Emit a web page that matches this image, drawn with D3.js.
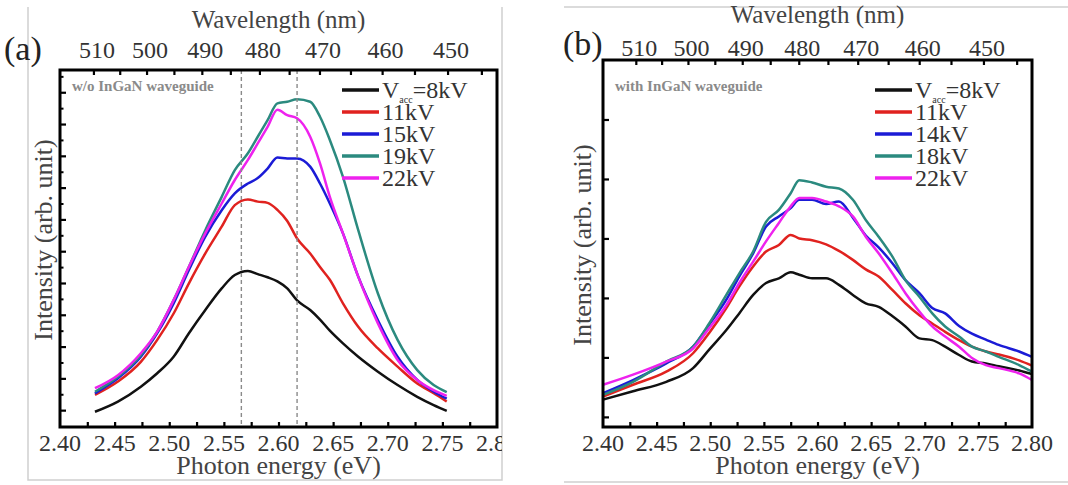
<!DOCTYPE html>
<html>
<head>
<meta charset="utf-8">
<script src="https://cdn.jsdelivr.net/npm/d3@7"></script>
<style>
  html, body { margin: 0; padding: 0; background: #fff; }
  svg { display: block; }
</style>
</head>
<body>
<svg id="chart" width="1068" height="485"></svg>
<script>
// ---- data ----
// panel (a): without InGaN waveguide
const energyA = [2.432, 2.453, 2.474, 2.489, 2.504, 2.518, 2.533, 2.548, 2.560, 2.572, 2.581, 2.590, 2.599,
                 2.608, 2.617, 2.629, 2.638, 2.647, 2.659, 2.673, 2.691, 2.709, 2.727, 2.742, 2.754];
const a8kV  = [0.95, 1.27, 1.74, 2.16, 2.68, 3.42, 4.15, 4.83, 5.25, 5.38, 5.28, 5.18, 5.05,
               4.83, 4.45, 4.15, 3.85, 3.50, 3.10, 2.68, 2.21, 1.79, 1.42, 1.16, 0.98];
const a11kV = [1.48, 1.90, 2.52, 3.21, 4.04, 4.99, 5.93, 6.77, 7.45, 7.63, 7.56, 7.52, 7.30,
               6.95, 6.40, 5.93, 5.50, 5.10, 4.36, 3.62, 2.94, 2.37, 1.84, 1.53, 1.27];
const a15kV = [1.53, 2.00, 2.68, 3.42, 4.36, 5.41, 6.46, 7.29, 7.82, 8.13, 8.30, 8.60, 8.95,
               8.92, 8.92, 8.66, 8.13, 7.50, 6.56, 5.20, 3.83, 2.68, 1.95, 1.58, 1.36];
const a19kV = [1.58, 2.05, 2.73, 3.47, 4.46, 5.51, 6.66, 7.71, 8.55, 9.08, 9.60, 10.12, 10.65,
               10.70, 10.78, 10.70, 10.23, 9.50, 8.34, 6.66, 4.67, 3.21, 2.26, 1.79, 1.57];
const a22kV = [1.69, 2.10, 2.79, 3.47, 4.46, 5.51, 6.56, 7.50, 8.24, 8.87, 9.39, 9.91, 10.45,
               10.28, 10.18, 9.60, 8.76, 7.71, 6.56, 5.20, 3.73, 2.58, 1.95, 1.63, 1.45];
const labelsA = ["8kV", "11kV", "15kV", "19kV", "22kV"];
const markersA = [2.566, 2.617];   // dashed guide lines (eV)

// panel (b): with InGaN waveguide
const energyB = [2.400, 2.428, 2.459, 2.484, 2.499, 2.515, 2.527, 2.540, 2.552, 2.564, 2.575, 2.583, 2.595, 2.608, 2.620,
                 2.633, 2.645, 2.657, 2.670, 2.682, 2.695, 2.707, 2.719, 2.732, 2.744, 2.757, 2.769, 2.788, 2.800];
const b8kV  = [1.29, 1.43, 1.59, 1.82, 2.13, 2.46, 2.74, 3.05, 3.25, 3.33, 3.43, 3.39, 3.33, 3.33, 3.22,
               3.05, 2.91, 2.85, 2.69, 2.52, 2.32, 2.29, 2.18, 2.04, 1.93, 1.90, 1.85, 1.78, 1.72];
const b11kV = [1.34, 1.54, 1.76, 2.07, 2.41, 2.83, 3.19, 3.53, 3.78, 3.89, 4.06, 4.00, 3.97, 3.90, 3.79,
               3.64, 3.48, 3.36, 3.13, 2.91, 2.71, 2.57, 2.43, 2.29, 2.18, 2.10, 2.05, 1.95, 1.86];
const b14kV = [1.40, 1.62, 1.90, 2.18, 2.55, 2.97, 3.36, 3.75, 4.20, 4.37, 4.51, 4.65, 4.65, 4.58, 4.62,
               4.35, 4.05, 3.85, 3.58, 3.30, 3.08, 2.83, 2.74, 2.53, 2.40, 2.30, 2.21, 2.10, 2.01];
const b18kV = [1.37, 1.59, 1.93, 2.18, 2.57, 3.05, 3.41, 3.78, 4.28, 4.48, 4.76, 4.98, 4.94, 4.87, 4.84,
               4.65, 4.31, 4.03, 3.69, 3.30, 3.02, 2.74, 2.52, 2.35, 2.18, 2.10, 2.01, 1.87, 1.76];
const b22kV = [1.54, 1.71, 1.93, 2.15, 2.49, 2.88, 3.25, 3.61, 3.95, 4.26, 4.54, 4.68, 4.68, 4.62, 4.54,
               4.37, 4.03, 3.75, 3.41, 3.08, 2.77, 2.52, 2.35, 2.18, 1.99, 1.87, 1.82, 1.73, 1.62];
const labelsB = ["8kV", "11kV", "14kV", "18kV", "22kV"];

const colors = ["#111111", "#e0221f", "#1b1bd6", "#2b8a7f", "#ee22ee"];
const energyTicks = [2.40, 2.45, 2.50, 2.55, 2.60, 2.65, 2.70, 2.75, 2.80];
const wavelengthTicks = [510, 500, 490, 480, 470, 460, 450];
const HC = 1239.84;  // eV*nm

const SERIF = "Liberation Serif";

const svg = d3.select("#chart");
svg.append("rect").attr("width", 1068).attr("height", 485).attr("fill", "#fff");

// light crop borders from the source image
const border = svg.append("g").attr("stroke", "#cfcfcf").attr("stroke-width", 1.5).attr("fill", "none");
border.append("path").attr("d", "M28,7 V480 H502 V7");
border.append("path").attr("d", "M564,7 H1068 M564,482 H1068");

function drawPanel(p) {
    const clipId = "clip-" + p.tag;
    svg.append("clipPath").attr("id", clipId)
        .append("rect").attr("x", 0).attr("y", 0).attr("width", p.clipRight).attr("height", 485);
    const g = svg.append("g").attr("clip-path", `url(#${clipId})`);

    const x = d3.scaleLinear().domain([2.40, 2.80]).range([p.left, p.right]);
    const y = d3.scaleLinear().domain(p.yDomain).range([p.bottom, p.top]);

    // curves
    const line = d3.line()
        .x(d => x(d[0]))
        .y(d => y(d[1]))
        .curve(d3.curveMonotoneX);
    p.series.forEach((s, i) => {
        g.append("path")
            .datum(p.energy.map((e, j) => [e, s[j]]))
            .attr("d", line)
            .attr("fill", "none")
            .attr("stroke", colors[i])
            .attr("stroke-width", 2.5)
            .attr("stroke-linejoin", "round");
    });

    // dashed guides
    (p.markers || []).forEach(m => {
        g.append("line")
            .attr("x1", x(m)).attr("x2", x(m))
            .attr("y1", p.top).attr("y2", p.bottom)
            .attr("stroke", "#8a8a8a")
            .attr("stroke-width", 1.4)
            .attr("stroke-dasharray", "4,3");
    });

    // bottom axis (ticks point inward)
    const bottomAxis = d3.axisBottom(x)
        .tickValues(d3.range(2.425, 2.80, 0.025))
        .tickSize(-5)
        .tickFormat("");
    g.append("g").attr("transform", `translate(0,${p.bottom})`).call(bottomAxis)
        .call(a => a.select(".domain").remove())
        .call(a => a.selectAll("line").attr("stroke", "#000").attr("stroke-width", 2.2));
    g.append("g").selectAll("text")
        .data(energyTicks)
        .join("text")
        .attr("x", d => x(d))
        .attr("y", p.bottom + 24)
        .attr("text-anchor", "middle")
        .attr("font-family", SERIF)
        .attr("font-size", 24)
        .attr("fill", "#333")
        .text(d => d.toFixed(2));

    // top axis: wavelength, placed through E = hc / lambda
    const topTicks = d3.range(445, 511, 5);
    g.append("g").selectAll("line")
        .data(topTicks)
        .join("line")
        .attr("x1", d => x(HC / d)).attr("x2", d => x(HC / d))
        .attr("y1", p.top).attr("y2", p.top + 5)
        .attr("stroke", "#000").attr("stroke-width", 2.2);
    g.append("g").selectAll("text")
        .data(wavelengthTicks)
        .join("text")
        .attr("x", d => x(HC / d) + 3)
        .attr("y", p.topLabelY)
        .attr("text-anchor", "middle")
        .attr("font-family", SERIF)
        .attr("font-size", 24)
        .attr("fill", "#333")
        .text(d => d);

    // left axis: unlabeled intensity ticks
    const leftAxis = d3.axisLeft(y).tickValues(p.yMajor).tickSize(-6).tickFormat("");
    g.append("g").attr("transform", `translate(${p.left},0)`).call(leftAxis)
        .call(a => a.select(".domain").remove())
        .call(a => a.selectAll("line").attr("stroke", "#000").attr("stroke-width", 2.2));
    if (p.yMinor) {
        const minorAxis = d3.axisLeft(y).tickValues(p.yMinor).tickSize(-3.5).tickFormat("");
        g.append("g").attr("transform", `translate(${p.left},0)`).call(minorAxis)
            .call(a => a.select(".domain").remove())
            .call(a => a.selectAll("line").attr("stroke", "#000").attr("stroke-width", 2));
    }

    // frame
    g.append("rect")
        .attr("x", p.left).attr("y", p.top)
        .attr("width", p.right - p.left).attr("height", p.bottom - p.top)
        .attr("fill", "none").attr("stroke", "#000").attr("stroke-width", 3);

    // titles
    g.append("text")
        .attr("x", (p.left + p.right) / 2).attr("y", p.topTitleY)
        .attr("text-anchor", "middle").attr("font-family", SERIF)
        .attr("font-size", 25).attr("fill", "#444")
        .text("Wavelength (nm)");
    g.append("text")
        .attr("x", (p.left + p.right) / 2).attr("y", 474)
        .attr("text-anchor", "middle").attr("font-family", SERIF)
        .attr("font-size", 26).attr("fill", "#444")
        .text("Photon energy (eV)");
    g.append("text")
        .attr("transform", `translate(${p.yTitleX},${p.yTitleY}) rotate(-90)`)
        .attr("text-anchor", "middle").attr("font-family", SERIF)
        .attr("font-size", 26).attr("fill", "#444")
        .text("Intensity (arb. unit)");
    g.append("text")
        .attr("x", p.tagX).attr("y", p.tagY)
        .attr("font-family", SERIF)
        .attr("font-size", 34).attr("fill", "#222")
        .text(`(${p.tag})`);
    g.append("text")
        .attr("x", p.left + 12).attr("y", 91)
        .attr("font-family", SERIF)
        .attr("font-size", 15).attr("font-weight", "bold").attr("fill", "#8a8a8a")
        .text(p.note);

    // legend
    const leg = g.append("g");
    p.labels.forEach((lab, i) => {
        const ry = 90 + i * 22;
        leg.append("line")
            .attr("x1", p.legX).attr("x2", p.legX + 37)
            .attr("y1", ry).attr("y2", ry)
            .attr("stroke", colors[i]).attr("stroke-width", 3.5);
        const t = leg.append("text")
            .attr("x", p.legX + 40).attr("y", ry + 8)
            .attr("font-family", SERIF)
            .attr("font-size", 24).attr("fill", "#333");
        if (i === 0) {
            t.append("tspan").text("V");
            t.append("tspan").attr("font-size", 10).attr("dy", 5).text("acc");
            t.append("tspan").attr("dy", -5).text("=" + lab);
        } else {
            t.text(lab);
        }
    });
}

drawPanel({
    tag: "a", clipRight: 502,
    left: 60, right: 497, top: 70, bottom: 427,
    yDomain: [0.47, 11.7],
    yMajor: d3.range(1, 12, 1),
    yMinor: d3.range(1.5, 11.6, 1),
    energy: energyA,
    series: [a8kV, a11kV, a15kV, a19kV, a22kV],
    labels: labelsA,
    markers: markersA,
    note: "w/o InGaN waveguide",
    topLabelY: 58, topTitleY: 28,
    yTitleX: 52, yTitleY: 240,
    tagX: 4, tagY: 60,
    legX: 342
});

drawPanel({
    tag: "b", clipRight: 1068,
    left: 603, right: 1032, top: 60, bottom: 427,
    yDomain: [0.83, 7.0],
    yMajor: d3.range(1, 7, 1),
    yMinor: null,
    energy: energyB,
    series: [b8kV, b11kV, b14kV, b18kV, b22kV],
    labels: labelsB,
    markers: [],
    note: "with InGaN waveguide",
    topLabelY: 56, topTitleY: 23,
    yTitleX: 591, yTitleY: 245,
    tagX: 563, tagY: 55,
    legX: 875
});
</script>
</body>
</html>
